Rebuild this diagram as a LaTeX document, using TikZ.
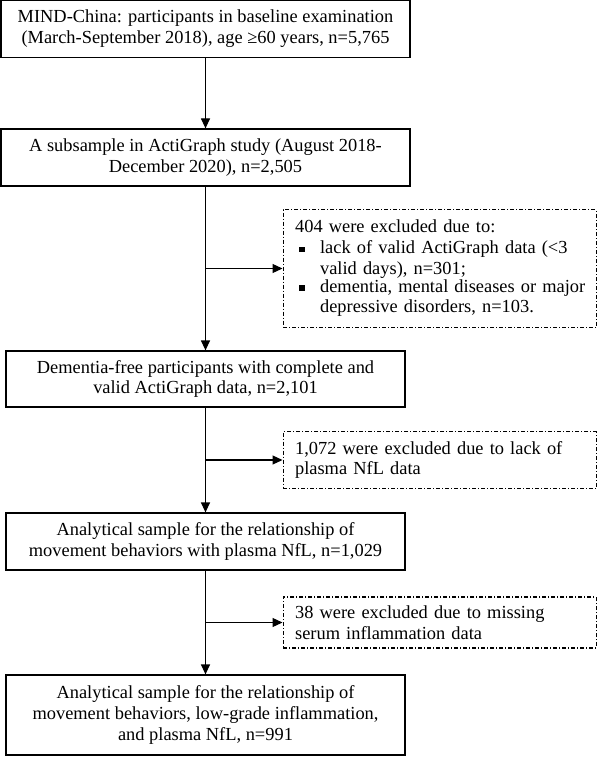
\documentclass[tikz,border=0pt]{standalone}
\usepackage{fontspec}
\setmainfont{Liberation Serif}
\usetikzlibrary{arrows.meta,positioning,calc}
\newcommand{\sqbullet}{\makebox[25pt][l]{\hspace{4pt}\rule[1.5pt]{5.5pt}{5.5pt}}}
\tikzset{
  fbox/.style={draw, line width=1.2pt, inner sep=0pt,
               font=\fontsize{18.4}{20.8}\selectfont},
  nmain/.style={fbox, align=center, minimum width=399pt, minimum height=57pt},
  nexcl/.style={fbox, align=left, text width=289pt, inner xsep=12pt,
                minimum width=313pt, dash pattern=on 4pt off 2pt on 1pt off 2pt},
  flow/.style={-{Triangle[length=10pt,width=9pt]}, line width=1.2pt},
}
\begin{document}
\begin{tikzpicture}[x=1pt, y=-1pt]
  \useasboundingbox (0,0) rectangle (597,757);
  \node[nmain, minimum width=409pt] (base) at (205.5,29)
    {MIND-China: participants in baseline examination\\(March-September 2018), age ≥60 years, n=5,765};
  \node[nmain, minimum width=409pt, below=70.3pt of base] (acti)
    {A subsample in ActiGraph study (August 2018-\\December 2020), n=2,505};
  \node[nmain, minimum height=56pt, below=163.8pt of acti] (valid)
    {Dementia-free participants with complete and\\valid ActiGraph data, n=2,101};
  \node[nmain, below=104.8pt of valid] (nfl)
    {Analytical sample for the relationship of\\movement behaviors with plasma NfL, n=1,029};
  \node[nmain, minimum height=80pt, below=103.8pt of nfl] (final)
    {Analytical sample for the relationship of\\movement behaviors, low-grade inflammation,\\and plasma NfL, n=991};
  % exclusion branches
  \coordinate (b1) at ($(acti.south)!0.5!(valid.north)$);
  \coordinate (b2) at ($(valid.south)!0.5!(nfl.north)$);
  \coordinate (b3) at ($(nfl.south)!0.5!(final.north)$);
  \node[nexcl, minimum height=118pt, right=77pt of b1] (ex1)
    {404 were excluded due to:\\
     \sqbullet\parbox[t]{266pt}{lack of valid ActiGraph data (<3\\valid days), n=301;}\\
     \sqbullet\parbox[t]{266pt}{dementia, mental diseases or major\\depressive disorders, n=103.}};
  \node[nexcl, minimum height=57pt, right=77pt of b2] (ex2)
    {1,072 were excluded due to lack of\\plasma NfL data};
  \node[nexcl, minimum height=51pt, right=77pt of b3] (ex3)
    {38 were excluded due to missing\\serum inflammation data};
  \foreach \a/\b in {base/acti,acti/valid,valid/nfl,nfl/final}
     \draw[flow] (\a)--(\b);
  \foreach \c/\e in {b1/ex1,b2/ex2,b3/ex3}
     \draw[flow] (\c)--(\e);
\end{tikzpicture}
\end{document}
